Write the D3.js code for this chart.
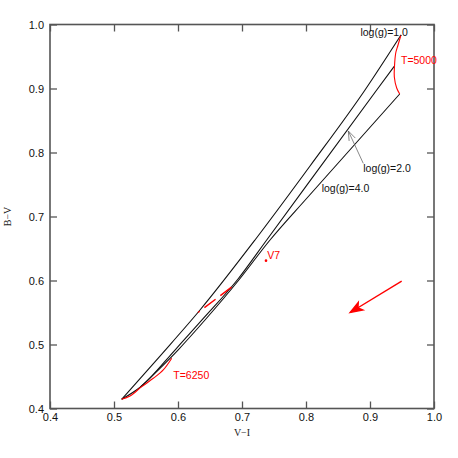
<!DOCTYPE html>
<html>
<head>
<meta charset="utf-8">
<script src="https://d3js.org/d3.v7.min.js"></script>
<style>
  body { margin: 0; background: #fff; }
  svg { display: block; }
</style>
</head>
<body>
<div id="chart"></div>
<script>
// iso-gravity tracks, [V-I, B-V]
var logg1 = [[0.512, 0.4144], [0.5719, 0.482], [0.6344, 0.5539], [0.7203, 0.6633], [0.8063, 0.7789], [0.8922, 0.8977], [0.9484, 0.9836]];
var logg2 = [[0.512, 0.4144], [0.5414, 0.4336], [0.5953, 0.4914], [0.6375, 0.5383], [0.6938, 0.6023], [0.7386, 0.6633], [0.9105, 0.8977], [0.9383, 0.9352]];
var logg4 = [[0.5414, 0.4336], [0.60, 0.4914], [0.6422, 0.5383], [0.6938, 0.5992], [0.7438, 0.6633], [0.8016, 0.7289], [0.9464, 0.8914]];
// isotherms
var t5000 = [[0.9484, 0.9836], [0.9438, 0.968], [0.9402, 0.9555], [0.9383, 0.9352], [0.938, 0.918], [0.9417, 0.9008], [0.9464, 0.8914]];
var t6250 = [[0.512, 0.4144], [0.525, 0.4195], [0.5433, 0.4341], [0.5614, 0.4472], [0.577, 0.4602], [0.5902, 0.4784]];
// the star and the reddening vectors
var v7 = [0.7375, 0.631];
var reddenShort = [[0.6313, 0.55], [0.6859, 0.5914]];
var reddenArrow = [[0.9495, 0.599], [0.869, 0.55]];

var xTicks = [0.4, 0.5, 0.6, 0.7, 0.8, 0.9, 1.0];
var yTicks = [0.4, 0.5, 0.6, 0.7, 0.8, 0.9, 1.0];

var margin = { top: 24.5, right: 24, bottom: 49.5, left: 50 },
  width = 458 - margin.left - margin.right,
  height = 458 - margin.top - margin.bottom;

var svg = d3
  .select("#chart")
  .append("svg")
  .attr("width", 458)
  .attr("height", 458)
  .append("g")
  .attr("transform", "translate(" + margin.left + "," + margin.top + ")");

var x = d3.scaleLinear().domain([0.4, 1.0]).range([0, width]);
var y = d3.scaleLinear().domain([0.4, 1.0]).range([height, 0]);

var tickFont = "Liberation Sans, Arial, sans-serif";
var axisColor = "#555";

// frame with inward ticks on all four sides
function styleAxis(g) {
  g.select(".domain").remove();
  g.selectAll(".tick line").attr("stroke", axisColor).attr("stroke-width", 1.3);
  g.selectAll(".tick text").attr("font-family", tickFont).attr("font-size", 11).attr("fill", "#111");
}

svg.append("g")
  .attr("transform", "translate(0," + height + ")")
  .call(d3.axisBottom(x).tickValues(xTicks).tickSize(-7).tickPadding(5).tickFormat(d3.format(".1f")))
  .call(styleAxis);
svg.append("g")
  .call(d3.axisLeft(y).tickValues(yTicks).tickSize(-7).tickPadding(6).tickFormat(d3.format(".1f")))
  .call(styleAxis);
svg.append("g")
  .call(d3.axisTop(x).tickValues(xTicks).tickSize(-7).tickFormat(""))
  .call(styleAxis);
svg.append("g")
  .attr("transform", "translate(" + width + ",0)")
  .call(d3.axisRight(y).tickValues(yTicks).tickSize(-7).tickFormat(""))
  .call(styleAxis);

svg.append("rect")
  .attr("width", width)
  .attr("height", height)
  .attr("fill", "none")
  .attr("stroke", axisColor)
  .attr("stroke-width", 1.6);

// axis titles
svg.append("text")
  .attr("x", x(0.7))
  .attr("y", height + 27)
  .attr("text-anchor", "middle")
  .attr("font-family", "Liberation Serif, serif")
  .attr("font-size", 10)
  .attr("fill", "#222")
  .text("V\u2212I");
svg.append("text")
  .attr("transform", "translate(" + (-39) + "," + y(0.7) + ") rotate(-90)")
  .attr("text-anchor", "middle")
  .attr("font-family", "Liberation Serif, serif")
  .attr("font-size", 10)
  .attr("fill", "#222")
  .text("B\u2212V");

var line = d3.line()
  .x(function (d) { return x(d[0]); })
  .y(function (d) { return y(d[1]); })
  .curve(d3.curveMonotoneX);

[logg1, logg2, logg4].forEach(function (track) {
  svg.append("path")
    .datum(track)
    .attr("d", line)
    .attr("fill", "none")
    .attr("stroke", "#111")
    .attr("stroke-width", 1.1);
});

var isoLine = d3.line()
  .x(function (d) { return x(d[0]); })
  .y(function (d) { return y(d[1]); })
  .curve(d3.curveCatmullRom);

[t5000, t6250].forEach(function (iso) {
  svg.append("path")
    .datum(iso)
    .attr("d", isoLine)
    .attr("fill", "none")
    .attr("stroke", "#f00")
    .attr("stroke-width", 1.1);
});

// dashed reddening segment
svg.append("path")
  .datum(reddenShort)
  .attr("d", d3.line().x(function (d) { return x(d[0]); }).y(function (d) { return y(d[1]); }))
  .attr("fill", "none")
  .attr("stroke", "#f00")
  .attr("stroke-width", 1.4)
  .attr("stroke-dasharray", "14,6")
  .attr("stroke-dashoffset", 12);

// star
svg.append("circle")
  .attr("cx", x(v7[0]))
  .attr("cy", y(v7[1]))
  .attr("r", 1.3)
  .attr("fill", "#f00");

// arrows
function arrow(from, to, color, sw, head, filled) {
  var x0 = x(from[0]), y0 = y(from[1]), x1 = x(to[0]), y1 = y(to[1]);
  var a = Math.atan2(y1 - y0, x1 - x0);
  var s = 0.35;
  svg.append("line")
    .attr("x1", x0).attr("y1", y0).attr("x2", x1).attr("y2", y1)
    .attr("stroke", color).attr("stroke-width", sw);
  var p1 = [x1 - head * Math.cos(a - s), y1 - head * Math.sin(a - s)];
  var p2 = [x1 - head * Math.cos(a + s), y1 - head * Math.sin(a + s)];
  svg.append("path")
    .attr("d", "M" + p1 + "L" + [x1, y1] + "L" + p2 + (filled ? "L" + [x1 - head * 0.7 * Math.cos(a), y1 - head * 0.7 * Math.sin(a)] + "Z" : ""))
    .attr("fill", filled ? color : "none")
    .attr("stroke", color)
    .attr("stroke-width", sw);
}
arrow(reddenArrow[0], reddenArrow[1], "#f00", 1.4, 13, true);
arrow([0.8895, 0.783], [0.8661, 0.8336], "#555", 0.7, 10, false);

// labels
function label(txt, vx, vy, color) {
  svg.append("text")
    .attr("x", x(vx))
    .attr("y", y(vy))
    .attr("font-family", tickFont)
    .attr("font-size", 10.5)
    .attr("fill", color)
    .text(txt);
}
label("log(g)=1.0", 0.885, 0.982, "#111");
label("T=5000", 0.9484, 0.9383, "#f00");
label("log(g)=2.0", 0.8895, 0.7695, "#111");
label("log(g)=4.0", 0.8245, 0.7383, "#111");
label("V7", 0.7395, 0.6336, "#f00");
label("T=6250", 0.5927, 0.4461, "#f00");
</script>
</body>
</html>
